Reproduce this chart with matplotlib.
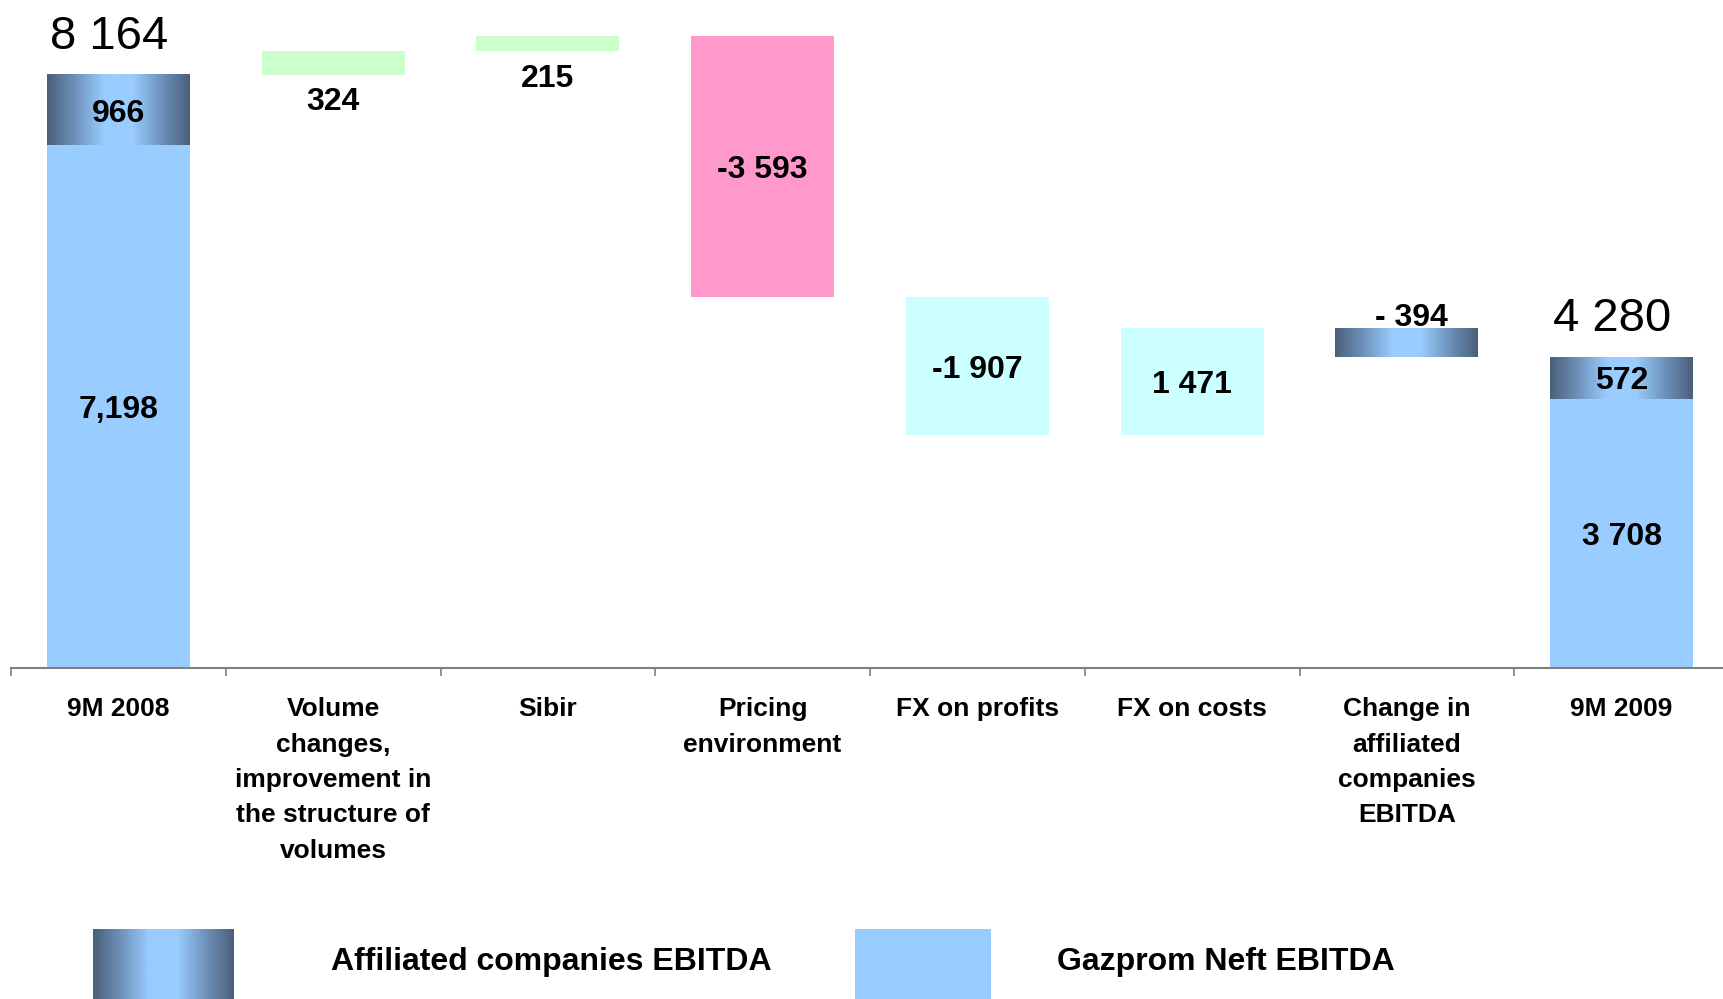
import numpy as np
import matplotlib.pyplot as plt
from matplotlib.colors import LinearSegmentedColormap
from matplotlib.patches import Rectangle

plt.rcParams['font.family'] = ['Liberation Sans', 'DejaVu Sans']

categories = ['9M 2008', 'Volume\nchanges,\nimprovement in\nthe structure of\nvolumes', 'Sibir',
              'Pricing\nenvironment', 'FX on profits', 'FX on costs',
              'Change in\naffiliated\ncompanies\nEBITDA', '9M 2009']
gazprom_ebitda = [7198, 3708]
affiliated_ebitda = [966, 572]
total_labels = ['8 164', '4 280']
gazprom_labels = ['7,198', '3 708']
affiliated_labels = ['966', '572']
changes = [324, 215, -3593, -1907, 1471, -394]
change_labels = ['324', '215', '-3 593', '-1 907', '1 471', '- 394']

BLUE = '#99CCFF'
change_colors = ['#CCFFCC', '#CCFFCC', '#FF99CC', '#CCFFFF', '#CCFFFF', 'gradient']
label_place = ['below', 'below', 'center', 'center', 'center', 'above']

grad_cmap = LinearSegmentedColormap.from_list(
    'aff', ['#4a5f7a', '#6f93bb', '#99ccff', '#99ccff', '#6f93bb', '#4a5f7a'])
grad_img = np.linspace(0, 1, 256).reshape(1, -1)


def gradient_bar(ax, x0, x1, y0, y1):
    ax.imshow(grad_img, cmap=grad_cmap, aspect='auto', extent=[x0, x1, y0, y1],
              interpolation='bilinear', zorder=2)


fig = plt.figure(figsize=(17.23, 9.99), dpi=100)
ax = fig.add_axes([11 / 1723, 331 / 999, 1718 / 1723, 668 / 999])
w = 0.665
lab = dict(fontsize=23, fontweight='bold', ha='center', va='center_baseline', zorder=5)

# totals (first and last columns)
for i, x in enumerate([0, len(categories) - 1]):
    g, a = gazprom_ebitda[i], affiliated_ebitda[i]
    ax.bar(x, g, width=w, color=BLUE, zorder=2)
    gradient_bar(ax, x - w / 2, x + w / 2, g, g + a)
    ax.text(x, g / 2, gazprom_labels[i], **lab)
    ax.text(x, g + a / 2, affiliated_labels[i], **lab)
    ax.annotate(total_labels[i], (x, g + a), xytext=(-7, 19), textcoords='offset points',
                ha='center', va='baseline', fontsize=34)

# changes
level = gazprom_ebitda[0] + affiliated_ebitda[0]
for j, d in enumerate(changes):
    x = j + 1
    lo, hi = min(level, level + d), max(level, level + d)
    if change_colors[j] == 'gradient':
        gradient_bar(ax, x - w / 2, x + w / 2, lo, hi)
    else:
        ax.bar(x, hi - lo, bottom=lo, width=w, color=change_colors[j], zorder=2)
    if label_place[j] == 'center':
        ax.text(x, (lo + hi) / 2, change_labels[j], **lab)
    elif label_place[j] == 'below':
        ax.annotate(change_labels[j], (x, lo), xytext=(0, -9), textcoords='offset points',
                    fontsize=23, fontweight='bold', ha='center', va='top')
    else:
        ax.annotate(change_labels[j], (x, hi), xytext=(3, 2), textcoords='offset points',
                    fontsize=23, fontweight='bold', ha='center', va='baseline')
    level += d

ax.set_xlim(-0.5, len(categories) - 0.5)
ax.set_ylim(0, 9196)
ax.set_xticks(range(len(categories)))
ax.set_xticklabels(categories, fontsize=19, fontweight='bold', linespacing=1.6)
ax.set_xticks(np.arange(-0.5, len(categories), 1), minor=True)
ax.tick_params(axis='x', which='major', length=0, pad=21)
ax.tick_params(axis='x', which='minor', length=6, width=1.2, color='#808080')
ax.set_yticks([])
for s in ['top', 'right', 'left']:
    ax.spines[s].set_visible(False)
ax.spines['bottom'].set_color('#808080')
ax.spines['bottom'].set_linewidth(1.5)

# legend
lax = fig.add_axes([93 / 1723, 0, 141 / 1723, 70 / 999])
lax.imshow(grad_img, cmap=grad_cmap, aspect='auto', extent=[0, 1, 0, 1], interpolation='bilinear')
lax.axis('off')
fig.patches.append(Rectangle((855 / 1723, 0), 136 / 1723, 70 / 999, transform=fig.transFigure,
                             facecolor=BLUE, edgecolor='none'))
fig.text(331 / 1723, 37 / 999, 'Affiliated companies EBITDA', fontsize=23, fontweight='bold',
         va='center', ha='left')
fig.text(1057 / 1723, 37 / 999, 'Gazprom Neft EBITDA', fontsize=23, fontweight='bold',
         va='center', ha='left')

fig.savefig('out.png', dpi=100)
